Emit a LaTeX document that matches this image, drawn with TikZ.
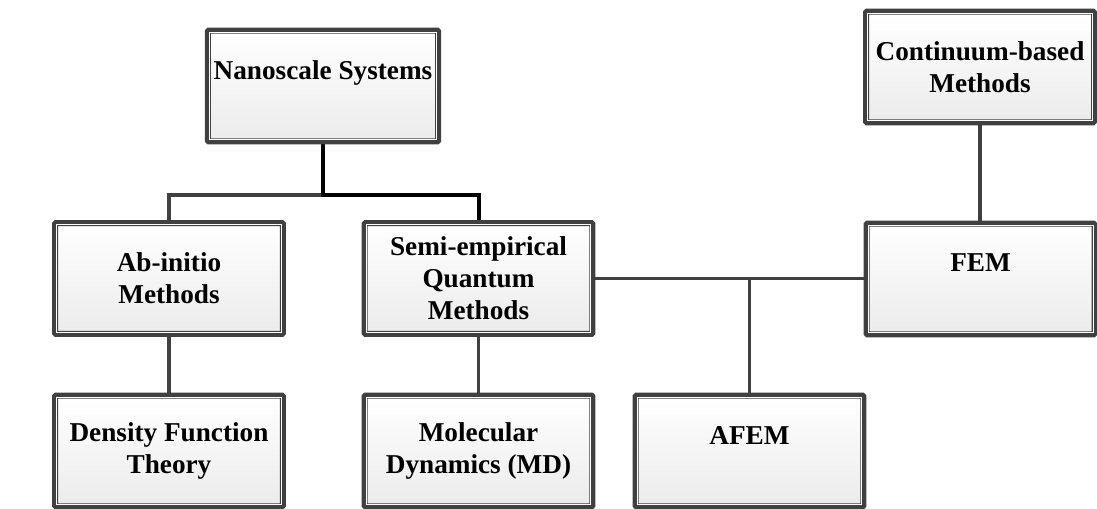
\documentclass[tikz,border=0pt]{standalone}
\usepackage{fontspec}
\setmainfont{Liberation Serif}
\usepackage{tikz}
\usetikzlibrary{positioning,shadows,backgrounds}
\definecolor{boxgray}{HTML}{404040}
\definecolor{shadegray}{HTML}{EBEBEB}

\begin{document}
\begin{tikzpicture}[
  x=0.02cm,y=-0.02cm,
  box/.style={draw=boxgray,line width=0.12cm,outer sep=0pt,rounded corners=0.02cm,
              top color=white,bottom color=shadegray,minimum width=4.56cm,minimum height=2.22cm,
              align=center,font=\bfseries\fontsize{15.5}{18.2}\selectfont,
              drop shadow={shadow xshift=0.04cm,shadow yshift=-0.04cm,opacity=0.25,fill=black!50}},
  inline/.style={draw=white,line width=0.02cm},
  link/.style={draw=boxgray,line width=0.07cm},
  mainlink/.style={draw=black,line width=0.08cm}
]
\useasboundingbox (0,0) rectangle (1097,509);
\node[box] (nano) at (323,86) {Nanoscale Systems\\\mbox{}};
\node[box] (cont) at (980,67) {Continuum-based\\Methods};
\node[box] (abinitio) at (169,278.5) {Ab-initio\\Methods};
\node[box] (semi) at (478.5,278.5) {Semi-empirical\\Quantum\\Methods};
\node[box] (fem) at (980.5,279) {FEM\\\mbox{}};
\node[box] (dft) at (169,451) {Density Function\\Theory};
\node[box] (md) at (478.5,451) {Molecular\\Dynamics (MD)};
\node[box] (afem) at (749.5,451) {AFEM\\\mbox{}};
% thin white line inside each frame
\foreach \n in {nano,cont,abinitio,semi,fem,dft,md,afem}
  \draw[inline] ([shift={(0.03cm,-0.03cm)}]\n.north west) rectangle ([shift={(-0.03cm,0.03cm)}]\n.south east);
\begin{scope}[on background layer]
\coordinate (split) at (323,195);
\draw[link] (split) -| (abinitio.north);
\draw[mainlink] (nano.south) -- (split) -| (semi.north);
\draw[link] (abinitio) -- (dft);
\draw[link] (semi) -- (md);
\draw[link] (semi.east) -- (semi.east -| fem.west);
\draw[link] (afem.north) -- (afem.north |- semi.east);
\draw[link] (cont.south) -- (cont.south |- fem.north);
\end{scope}
\end{tikzpicture}
\end{document}
